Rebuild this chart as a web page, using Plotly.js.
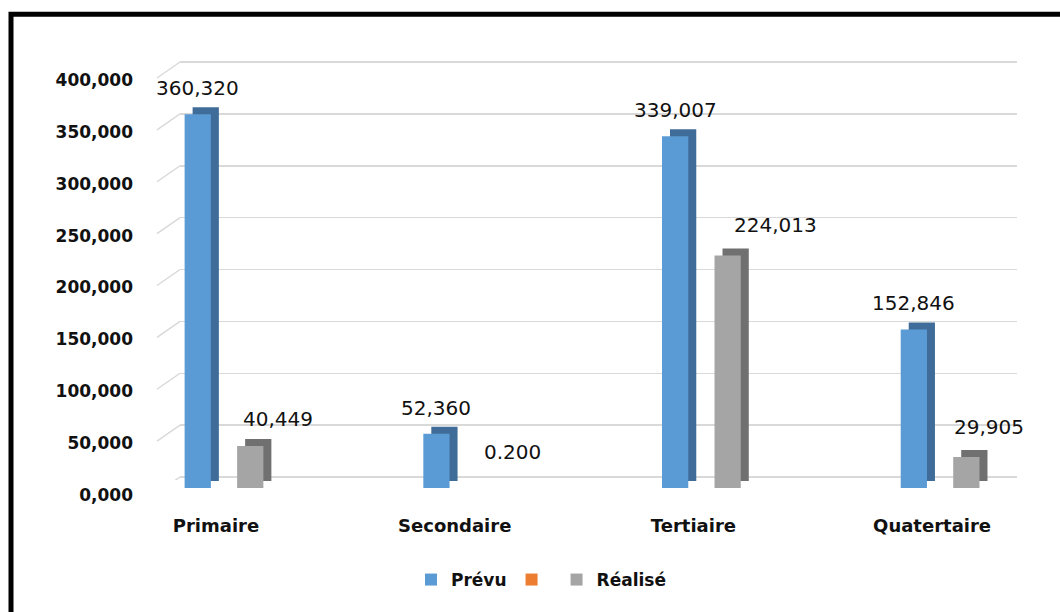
<!DOCTYPE html>
<html>
<head>
<meta charset="utf-8">
<script src="https://cdn.plot.ly/plotly-3.0.1.min.js"></script>
<style>html,body{margin:0;padding:0;background:#fff;}#chart{width:1060px;height:612px;}</style>
</head>
<body>
<div id="chart"></div>
<script>
// ---- data ----
const categories = ['Primaire', 'Secondaire', 'Tertiaire', 'Quatertaire'];
const prevu = [360320, 52360, 339007, 152846];
const prevuText = ['360,320', '52,360', '339,007', '152,846'];
const orange = [0, 0, 0, 0];
const realise = [40449, 0.2, 224013, 29905];
const realiseText = ['40,449', '0.200', '224,013', '29,905'];
const tickVals = [0, 50000, 100000, 150000, 200000, 250000, 300000, 350000, 400000];
const tickText = ['0,000', '50,000', '100,000', '150,000', '200,000', '250,000', '300,000', '350,000', '400,000'];

// ---- label offsets (style, pixels) ----
const realiseDx = [28, 24, 48, 23];
const realiseDy = [27, 36, 31, 30];

const W = 1060, H = 612;
const px = x => x / W;
const py = y => (H - y) / H;

const BLUE = '#5B9BD5', BLUE_D = '#3F6C98';
const GRAY = '#A5A5A5', GRAY_D = '#707070';
const ORANGE = '#ED7D31';

// front plane geometry
const frontL = 104.65, frontR = 1011.7; // x range [-0.5, 3.3]
const depthDx = 8, depthDy = 7;
const yMax = 400000;
const pxPerUnit = 415 / yMax;
const pad = 3 / pxPerUnit; // 3 px padding so edge gridlines are drawn

const traces = [
  // depth (side) faces
  {type: 'bar', x: categories, y: prevu, xaxis: 'x2', yaxis: 'y2', marker: {color: BLUE_D, line: {width: 0}}, showlegend: false, hoverinfo: 'skip'},
  {type: 'bar', x: categories, y: orange, xaxis: 'x2', yaxis: 'y2', marker: {color: ORANGE, line: {width: 0}}, showlegend: false, hoverinfo: 'skip'},
  {type: 'bar', x: categories, y: realise, xaxis: 'x2', yaxis: 'y2', marker: {color: GRAY_D, line: {width: 0}}, showlegend: false, hoverinfo: 'skip'},
  // front faces
  {type: 'bar', name: 'Prévu', x: categories, y: prevu, xaxis: 'x3', yaxis: 'y3', marker: {color: BLUE, line: {width: 0}}},
  {type: 'bar', name: '', x: categories, y: orange, xaxis: 'x3', yaxis: 'y3', marker: {color: ORANGE, line: {width: 0}}},
  {type: 'bar', name: 'Réalisé', x: categories, y: realise, xaxis: 'x3', yaxis: 'y3', marker: {color: GRAY, line: {width: 0}}},
  // invisible point to keep the back-wall subplot alive
  {type: 'scatter', x: [0.5], y: [0], xaxis: 'x', yaxis: 'y', mode: 'markers', marker: {opacity: 0}, showlegend: false, hoverinfo: 'skip'}
];

const catPx = (frontR - frontL) / 3.8;
const bargap = 0.67;
const slot = catPx * (1 - bargap) / 3;

const annotations = [];
categories.forEach((c, i) => {
  annotations.push({x: c, y: prevu[i], xref: 'x3', yref: 'y3', text: prevuText[i], showarrow: false,
    xshift: -slot, yshift: 26, yanchor: 'middle',
    font: {family: 'DejaVu Sans', size: 20, color: '#111'}});
  annotations.push({x: c, y: realise[i], xref: 'x3', yref: 'y3', text: realiseText[i], showarrow: false,
    xshift: slot + realiseDx[i], yshift: realiseDy[i], yanchor: 'middle',
    font: {family: 'DejaVu Sans', size: 20, color: '#111'}});
});

const shapes = [];
// diagonal grid lines (side wall), from front plane to back wall
tickVals.forEach(v => {
  shapes.push({type: 'line', xref: 'paper', yref: 'y', ysizemode: 'pixel', yanchor: v,
    x0: px(157), x1: px(180), y0: -16, y1: 0,
    line: {color: '#D9D9D9', width: 1.5}, layer: 'below'});
});
// frame
shapes.push({type: 'rect', xref: 'paper', yref: 'paper', x0: px(11), x1: 1.2, y0: -0.2, y1: py(14.3),
  line: {color: '#000', width: 5}, fillcolor: 'rgba(0,0,0,0)'});

const layout = {
  width: W, height: H,
  margin: {l: 0, r: 0, t: 0, b: 0},
  paper_bgcolor: '#fff', plot_bgcolor: 'rgba(0,0,0,0)',
  barmode: 'group', bargap: bargap, bargroupgap: 0,
  showlegend: true,
  legend: {orientation: 'h', x: px(541), xanchor: 'center', y: py(580), yanchor: 'middle',
    font: {family: 'DejaVu Sans', size: 17, color: '#111', weight: 'bold'}, itemclick: false, traceorder: 'normal'},
  xaxis: {domain: [px(180), px(1017)], range: [0, 1], visible: false, fixedrange: true},
  yaxis: {domain: [py(477 + 3), py(477 - 415 - 3)], range: [-pad, yMax + pad], anchor: 'x',
    tickvals: tickVals, ticktext: tickText, showgrid: true, gridcolor: '#D9D9D9', gridwidth: 1.5,
    zeroline: false, showline: false, ticks: '', ticklabelshift: 18, ticklabelstandoff: 46,
    tickfont: {family: 'DejaVu Sans', size: 17, color: '#111', weight: 'bold'}, fixedrange: true},
  xaxis2: {domain: [px(frontL + depthDx), px(frontR + depthDx)], range: [-0.5, 3.3], anchor: 'y2', visible: false, type: 'category'},
  yaxis2: {domain: [py(488 - depthDy), py(488 - depthDy - 415)], range: [0, yMax], anchor: 'x2', visible: false},
  xaxis3: {domain: [px(frontL), px(frontR)], range: [-0.5, 3.3], anchor: 'y3', type: 'category',
    showgrid: false, zeroline: false, showline: false, ticks: '', ticklabelshift: -8, ticklabelstandoff: 25,
    tickfont: {family: 'DejaVu Sans', size: 18, color: '#111', weight: 'bold'}},
  yaxis3: {domain: [py(488), py(73)], range: [0, yMax], anchor: 'x3', visible: false},
  annotations: annotations,
  shapes: shapes
};

Plotly.newPlot('chart', traces, layout, {displayModeBar: false, staticPlot: true});
</script>
</body>
</html>
